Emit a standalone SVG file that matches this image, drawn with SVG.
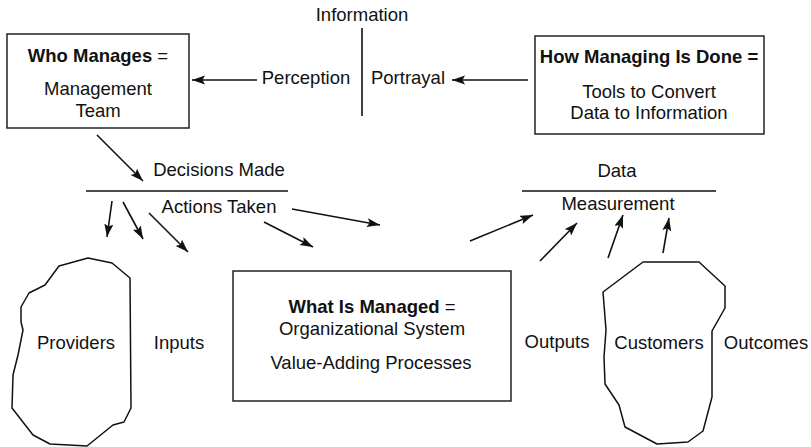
<svg xmlns="http://www.w3.org/2000/svg" width="811" height="447" viewBox="0 0 811 447">
<style>
text{font-family:"Liberation Sans",Arial,sans-serif;font-size:18.5px;fill:#111;text-anchor:middle}
.b{font-weight:bold}
.box{fill:#fff;stroke:#222;stroke-width:1.5}
.blob{fill:none;stroke:#111;stroke-width:1.5;stroke-linejoin:round}
.ln{stroke:#111;stroke-width:1.6;fill:none}
.ar{stroke:#111;stroke-width:1.6;fill:none;marker-end:url(#ah)}
</style>
<defs>
<marker id="ah" markerUnits="userSpaceOnUse" markerWidth="14" markerHeight="10" refX="13" refY="4.5" orient="auto">
<path d="M0,0 L13,4.5 L0,9 L2.5,4.5 z" fill="#111"/>
</marker>
</defs>
<g id="who-manages">
<rect class="box" x="7" y="34" width="182" height="94"/>
<text x="98" y="62"><tspan class="b">Who Manages</tspan> =</text>
<text x="98" y="95">Management</text>
<text x="98" y="117">Team</text>
</g>
<g id="how-managing">
<rect class="box" x="535" y="36" width="229" height="98"/>
<text x="649" y="63"><tspan class="b">How Managing Is Done</tspan> <tspan class="b">=</tspan></text>
<text x="649" y="98">Tools to Convert</text>
<text x="649" y="119">Data to Information</text>
</g>
<g id="information">
<text x="362" y="21">Information</text>
<line class="ln" x1="362" y1="28" x2="362" y2="116"/>
<text x="306" y="84">Perception</text>
<text x="408" y="84">Portrayal</text>
</g>
<g id="decisions">
<text x="219" y="176">Decisions Made</text>
<line class="ln" x1="86" y1="191" x2="288" y2="191"/>
<text x="219" y="213">Actions Taken</text>
</g>
<g id="data">
<text x="617" y="177">Data</text>
<line class="ln" x1="522" y1="191" x2="716" y2="191"/>
<text x="618" y="210">Measurement</text>
</g>
<g id="what-is-managed">
<rect class="box" x="233" y="271" width="278" height="130"/>
<text x="372" y="313"><tspan class="b">What Is Managed</tspan> =</text>
<text x="372" y="335">Organizational System</text>
<text x="371" y="369">Value-Adding Processes</text>
</g>
<g id="providers">
<path class="blob" d="M59,266 L88,258 L112,263 L130,278 L131,408 L124,422 L113,425 L87,446 L50,444 L33,435 L12,408 L13,375 L18,355 L23,330 L21,322 L21,307 L29,293 L45,285 Z"/>
<text x="76" y="349">Providers</text>
</g>
<g id="inputs"><text x="179" y="349">Inputs</text></g>
<g id="outputs"><text x="557" y="348">Outputs</text></g>
<g id="customers">
<path class="blob" d="M643,262 L699,262 L725,286 L725,308 L712,331 L712,397 L703,431 L688,442 L657,444 L625,427 L619,405 L605,384 L604,357 L606,330 L603,292 Z"/>
<text x="659" y="349">Customers</text>
</g>
<g id="outcomes"><text x="766" y="349">Outcomes</text></g>
<g id="connectors">
<line class="ar" x1="528" y1="80" x2="452" y2="80"/>
<line class="ar" x1="257" y1="80" x2="192" y2="80"/>
<line class="ar" x1="97" y1="135" x2="143" y2="181"/>
<line class="ar" x1="112" y1="201" x2="107" y2="237"/>
<line class="ar" x1="123" y1="202" x2="143" y2="239"/>
<line class="ar" x1="149" y1="213" x2="188" y2="252"/>
<line class="ar" x1="264" y1="222" x2="313" y2="247"/>
<line class="ar" x1="292" y1="209" x2="380" y2="225"/>
<line class="ar" x1="470" y1="241" x2="533" y2="215"/>
<line class="ar" x1="540" y1="261" x2="577" y2="223"/>
<line class="ar" x1="608" y1="258" x2="623" y2="215"/>
<line class="ar" x1="663" y1="253" x2="669" y2="218"/>
</g>
</svg>
